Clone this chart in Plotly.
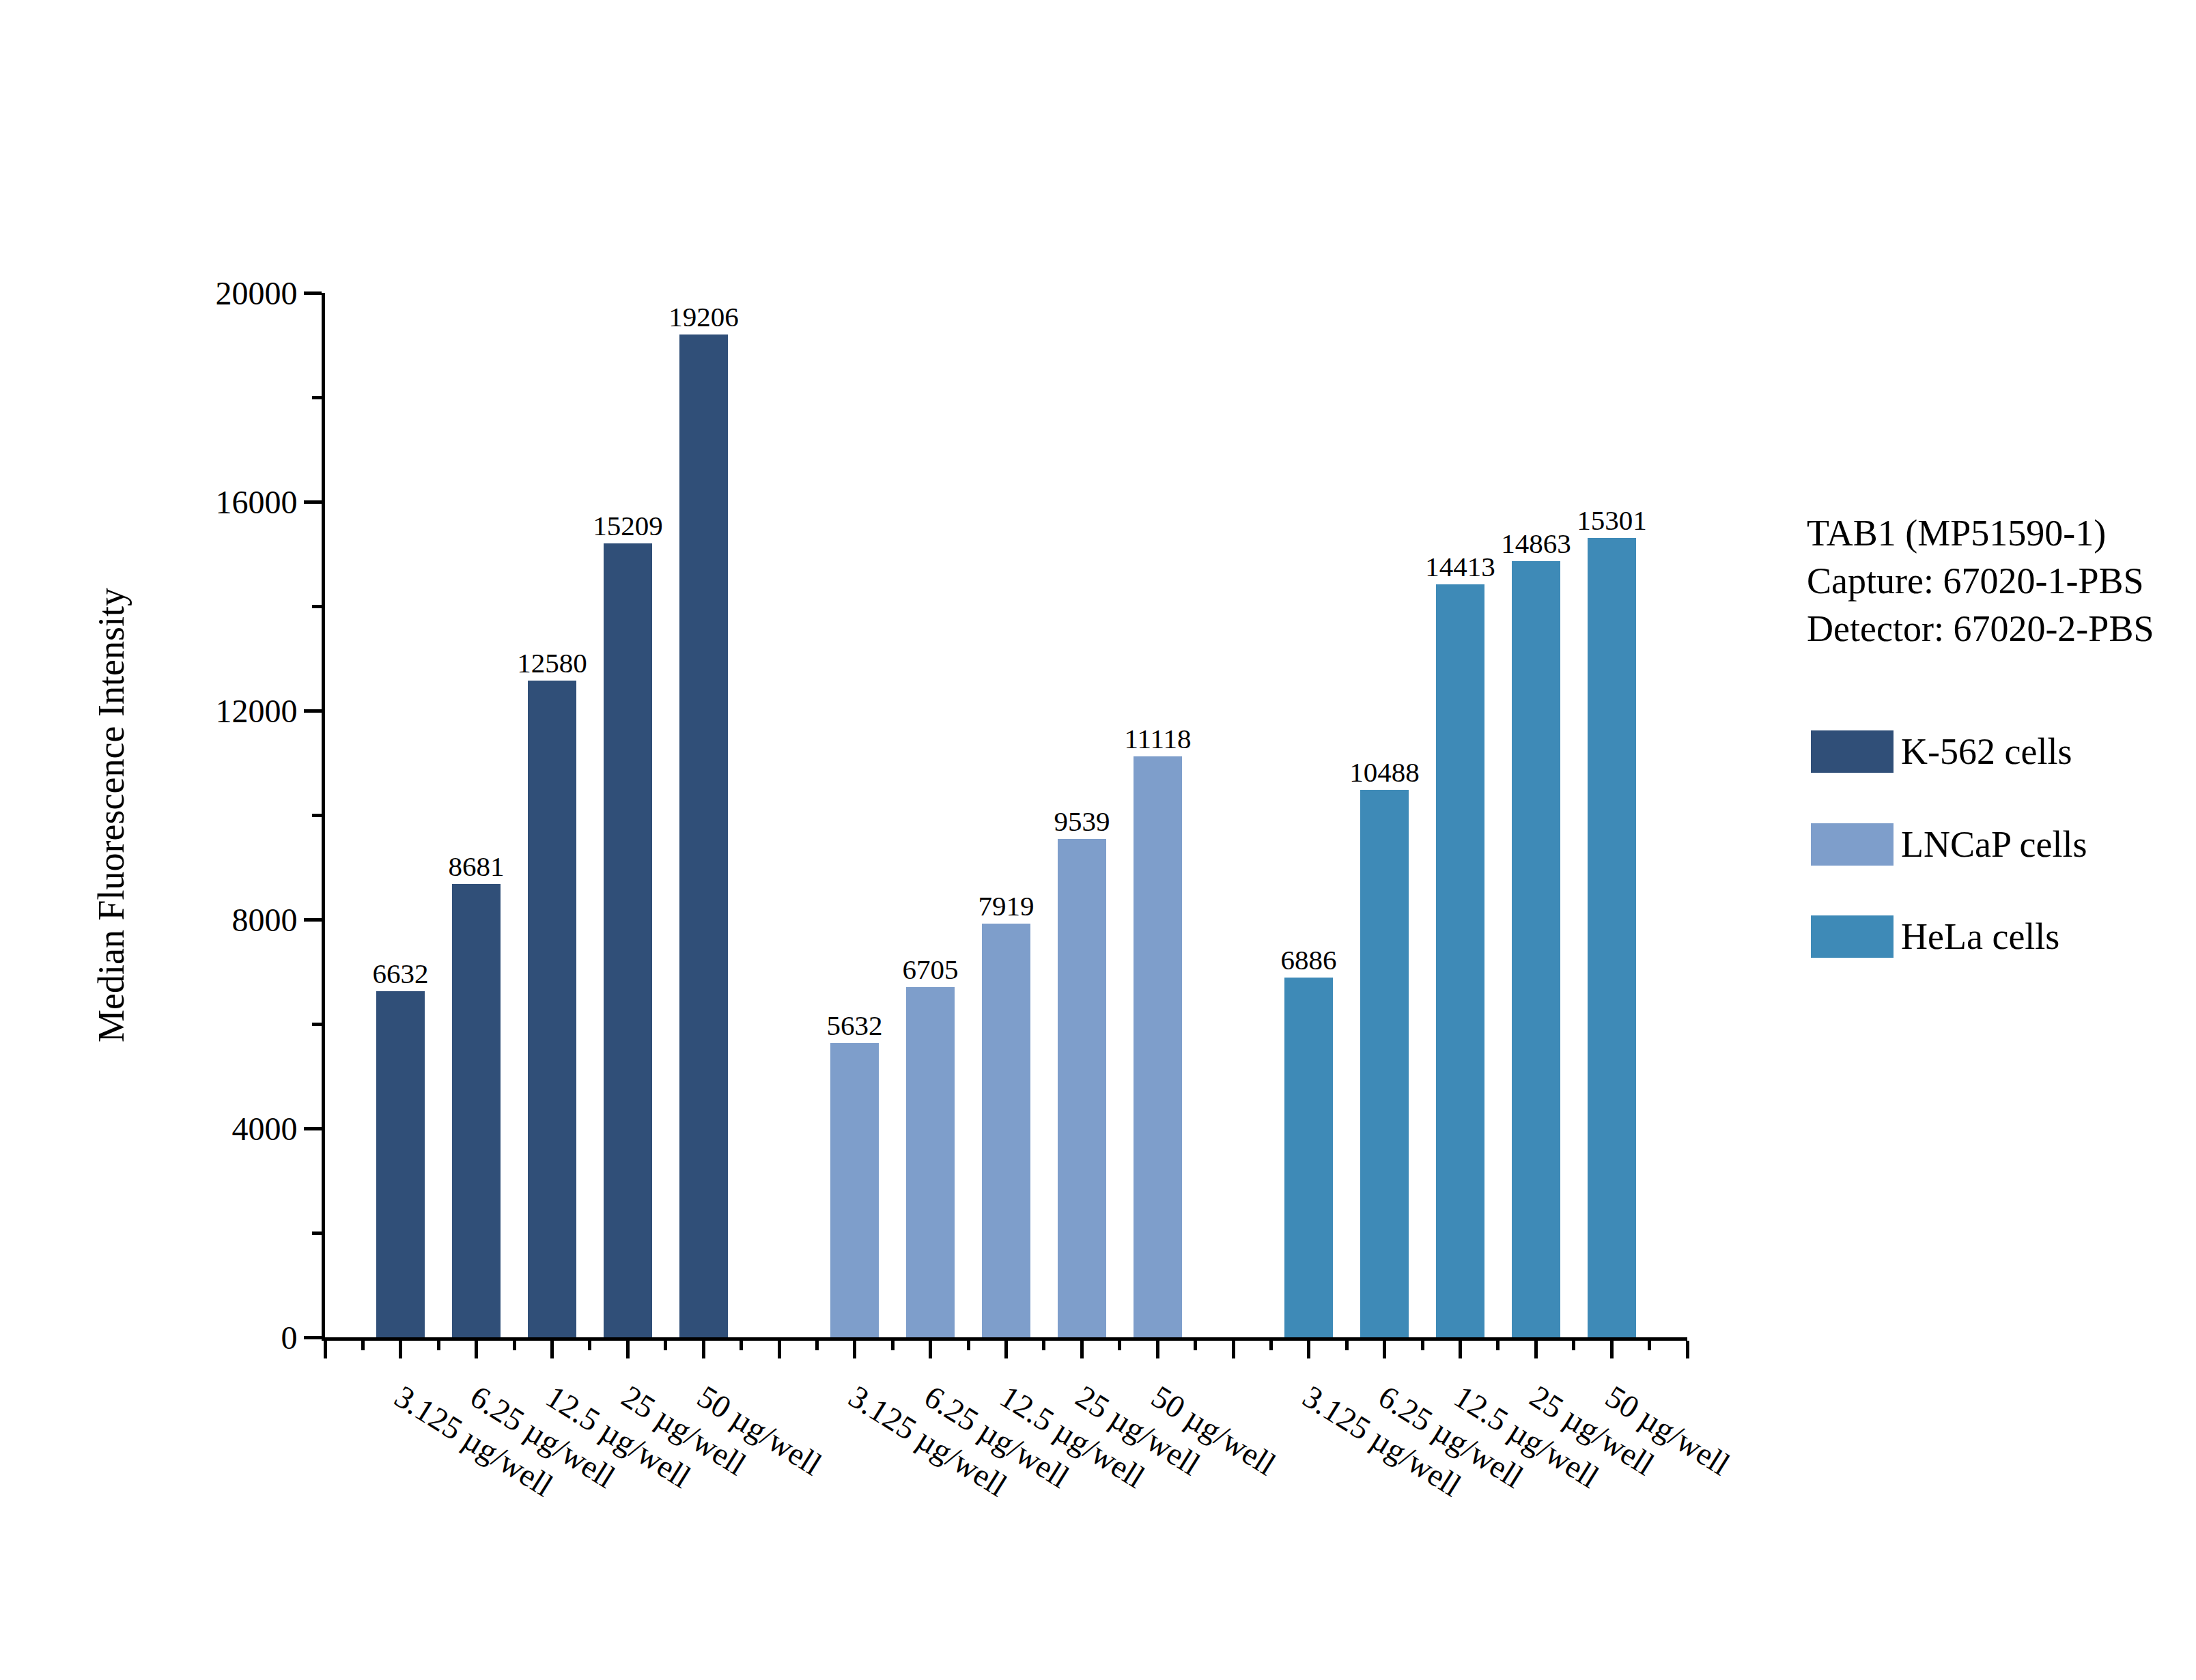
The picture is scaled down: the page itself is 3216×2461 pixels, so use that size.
import plotly.graph_objects as go

# ---- data ----
groups = ["K-562 cells", "LNCaP cells", "HeLa cells"]
doses = ["3.125 µg/well", "6.25 µg/well", "12.5 µg/well", "25 µg/well", "50 µg/well"]
k562 = [6632, 8681, 12580, 15209, 19206]
lncap = [5632, 6705, 7919, 9539, 11118]
hela = [6886, 10488, 14413, 14863, 15301]
series_values = [k562, lncap, hela]
colors = ["#304F78", "#7E9ECB", "#3E8AB7"]
legend_title = ["TAB1 (MP51590-1)", "Capture: 67020-1-PBS", "Detector: 67020-2-PBS"]
y_ticks = [0, 4000, 8000, 12000, 16000, 20000]

FONT = "Liberation Serif"
W, H = 3216, 2461
L, R, T, B = 468, 753, 421, 510
PW, PH = W - L - R, H - T - B

step = len(doses) + 1
n_pos = step * len(groups)

fig = go.Figure()
for g, (name, vals, col) in enumerate(zip(groups, series_values, colors)):
    xs = [g * step + i + 1 for i in range(len(doses))]
    fig.add_trace(go.Bar(
        x=xs, y=vals, name=name, marker=dict(color=col, line=dict(width=0)),
        width=0.64, text=[str(v) for v in vals], textposition="outside",
        constraintext="none",
        textfont=dict(family=FONT, size=41, color="black"), cliponaxis=False,
        showlegend=False,
    ))

tickvals = list(range(0, n_pos + 1))
ticktext = []
for p in tickvals:
    r = p % step
    ticktext.append(doses[r - 1] if (r != 0 and p < n_pos) else "")

fig.update_layout(
    width=W, height=H, autosize=False,
    margin=dict(l=L, r=R, t=T, b=B),
    plot_bgcolor="white", paper_bgcolor="white",
    font=dict(family=FONT, color="black"),
    bargap=0,
    xaxis=dict(
        range=[0, n_pos], tickmode="array", tickvals=tickvals, ticktext=ticktext,
        tickangle=32, ticks="outside", ticklen=26, tickwidth=5, tickcolor="black",
        showline=True, linewidth=5, linecolor="black", showgrid=False, zeroline=False,
        tickfont=dict(family=FONT, size=47, color="black"), ticklabelstandoff=12,
        minor=dict(tickmode="linear", tick0=0.5, dtick=1, ticks="outside",
                   ticklen=14, tickwidth=5, tickcolor="black", showgrid=False),
    ),
    yaxis=dict(
        range=[0, 20000], tickmode="array", tickvals=y_ticks,
        ticktext=[str(v) for v in y_ticks],
        ticks="outside", ticklen=26, tickwidth=5, tickcolor="black",
        showline=True, linewidth=5, linecolor="black", showgrid=False, zeroline=False,
        tickfont=dict(family=FONT, size=48, color="black"),
        minor=dict(tickmode="linear", tick0=2000, dtick=4000, ticks="outside",
                   ticklen=14, tickwidth=5, tickcolor="black", showgrid=False),
        title=dict(text="Median Fluorescence Intensity",
                   font=dict(family=FONT, size=54, color="black"), standoff=118),
    ),
)

def px_x(x):
    return (x - L) / PW

def px_y(y):
    return (H - B - y) / PH

# legend title
fig.add_annotation(
    xref="paper", yref="paper", x=px_x(2636), y=px_y(843),
    xanchor="left", yanchor="middle", align="left", showarrow=False,
    text="<br>".join(legend_title), font=dict(family=FONT, size=54, color="black"),
)
# legend items
item_y = [1093, 1229, 1364]
for name, col, yc in zip(groups, colors, item_y):
    fig.add_shape(type="rect", xref="paper", yref="paper",
                  x0=px_x(2644), x1=px_x(2765), y0=px_y(yc + 31), y1=px_y(yc - 31),
                  fillcolor=col, line=dict(width=0))
    fig.add_annotation(
        xref="paper", yref="paper", x=px_x(2774), y=px_y(yc),
        xanchor="left", yanchor="middle", showarrow=False,
        text=name, font=dict(family=FONT, size=54, color="black"),
    )

fig.write_html("out.html")
